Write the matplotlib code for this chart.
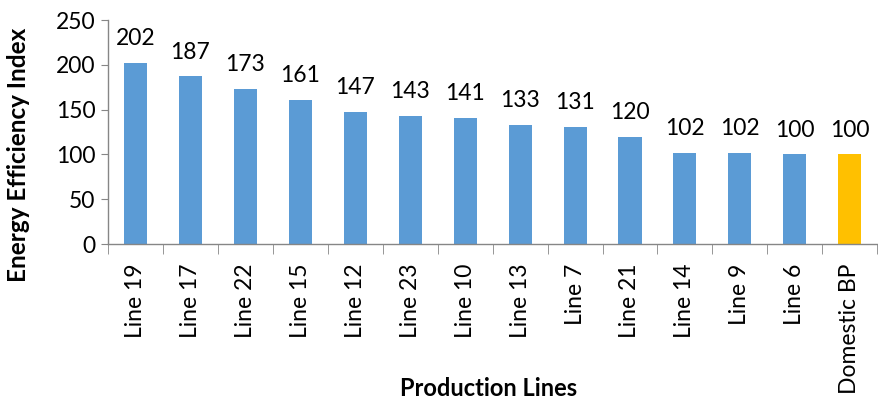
import matplotlib
matplotlib.use("Agg")
import matplotlib.pyplot as plt

categories = ["Line 19", "Line 17", "Line 22", "Line 15", "Line 12", "Line 23", "Line 10",
              "Line 13", "Line 7", "Line 21", "Line 14", "Line 9", "Line 6", "Domestic BP"]
values = [202, 187, 173, 161, 147, 143, 141, 133, 131, 120, 102, 102, 100, 100]
bar_colors = ["#5B9BD5"] * 13 + ["#FFC000"]

plt.rcParams["font.family"] = ["Lato", "DejaVu Sans"]

fig = plt.figure(figsize=(8.79, 4.01), dpi=100)
ax = fig.add_axes([0.1229, 0.3915, 0.8751, 0.5585])

x = list(range(len(categories)))
bars = ax.bar(x, values, width=0.42, color=bar_colors)
for xi, v in zip(x, values):
    ax.annotate(str(v), (xi, v), xytext=(0, 10), textcoords="offset points",
                ha="center", va="bottom", fontsize=16.5)

ax.set_xlim(-0.5, len(categories) - 0.5)
ax.set_ylim(0, 250)
ax.set_yticks(range(0, 251, 50))
ax.tick_params(axis="y", labelsize=16.5, length=5, color="#868686", pad=4)

# category labels centred under bars, tick marks between categories
ax.set_xticks(x)
ax.set_xticklabels(categories, rotation=90, fontsize=16.5)
ax.tick_params(axis="x", which="major", length=0, pad=14)
ax.set_xticks([i - 0.5 for i in range(len(categories) + 1)], minor=True)
ax.tick_params(axis="x", which="minor", length=7, color="#868686")

for side in ("top", "right"):
    ax.spines[side].set_visible(False)
for side in ("left", "bottom"):
    ax.spines[side].set_color("#868686")
    ax.spines[side].set_linewidth(1.0)

ax.set_ylabel("Energy Efficiency Index", fontsize=17.5, fontweight="bold")
ax.yaxis.set_label_coords(-0.102, 0.40)
fig.text(0.556, 0.003, "Production Lines", ha="center", va="bottom", fontsize=17, fontweight="bold")

fig.savefig("out.png", dpi=100)
